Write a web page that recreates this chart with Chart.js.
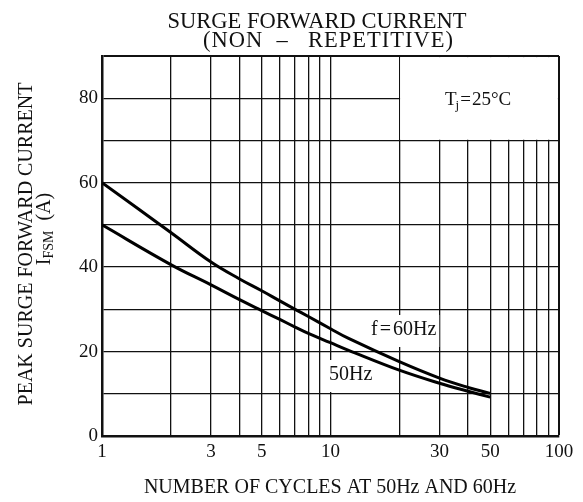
<!DOCTYPE html>
<html><head><meta charset="utf-8">
<script src="https://cdn.jsdelivr.net/npm/chart.js@4/dist/chart.umd.min.js"></script>
<style>html,body{margin:0;padding:0;background:#fff}#c{display:block}</style>
</head><body>
<canvas id="c" width="583" height="502"></canvas>
<script>
const cycles = [1, 2, 3, 4, 5, 6, 7, 8, 10, 12, 20, 30, 40, 50];
const current60Hz = [60, 48.2, 41.2, 37.2, 34.4, 32.0, 30.0, 28.3, 25.4, 23.1, 17.6, 13.7, 11.5, 10.1];
const current50Hz = [50, 40.6, 35.8, 32.3, 29.7, 27.6, 25.8, 24.3, 22.1, 20.3, 15.6, 12.5, 10.6, 9.2];
const xGridValues = [1,2,3,4,5,6,7,8,9,10,20,30,40,50,60,70,80,90,100];
const xTickLabels = [1, 3, 5, 10, 30, 50, 100];
const yGridValues = [0,10,20,30,40,50,60,70,80,90];
const yTickLabels = [0, 20, 40, 60, 80];

const SERIF = '"Liberation Serif", "DejaVu Serif", serif';
const INK = '#111';

const decor = {
  id: 'decor',
  beforeDatasetsDraw(chart) {
    const {ctx, chartArea: a, scales: {x, y}} = chart;
    ctx.save();
    // blank the Tj box region (no grid above 70 A beyond 20 cycles)
    const x20 = x.getPixelForValue(20), y70 = y.getPixelForValue(70);
    ctx.fillStyle = '#fff';
    ctx.fillRect(x20 + 0.8, a.top + 1.1, a.right - x20 - 1.9, y70 - a.top - 1.8);
    // label boxes
    ctx.font = '20px ' + SERIF;
    ctx.textBaseline = 'alphabetic';
    const lab = (parts, lx, by) => {
      let w = 0;
      parts.forEach(p => { w += ctx.measureText(p).width + 2; });
      ctx.fillStyle = '#fff';
      ctx.fillRect(lx - 3, by - 20, w + 4, 32);
      ctx.fillStyle = INK;
      let px = lx;
      parts.forEach(p => { ctx.fillText(p, px, by); px += ctx.measureText(p).width + 2; });
    };
    lab(['f', '=', '60Hz'], 371, 335);
    lab(['50Hz'], 329, 380);
    // Tj = 25°C
    ctx.fillStyle = INK;
    ctx.font = '19px ' + SERIF;
    let tx = 445;
    ctx.fillText('T', tx, 105); tx += ctx.measureText('T').width - 1;
    ctx.font = '13px ' + SERIF;
    ctx.fillText('j', tx, 109); tx += ctx.measureText('j').width + 1;
    ctx.font = '19px ' + SERIF;
    ctx.fillText('=', tx, 105); tx += ctx.measureText('=').width + 1;
    ctx.fillText('25°C', tx, 105);
    ctx.restore();
  },
  afterDraw(chart) {
    const {ctx} = chart;
    ctx.save();
    ctx.fillStyle = INK;
    ctx.textAlign = 'center';
    ctx.textBaseline = 'alphabetic';
    ctx.font = '22.5px ' + SERIF;
    ctx.fillText('SURGE FORWARD CURRENT', 317, 28);
    ctx.textAlign = 'left';
    ctx.letterSpacing = '1px';
    ctx.fillText('(NON', 203, 47);
    ctx.fillText('REPETITIVE)', 308, 47);
    ctx.letterSpacing = '0px';
    ctx.textAlign = 'center';
    ctx.fillText('\u2013', 282, 47);
    ctx.font = '20px ' + SERIF;
    ctx.fillText('NUMBER OF CYCLES AT 50Hz AND 60Hz', 330, 493);
    // y axis title
    ctx.save();
    ctx.translate(32, 244);
    ctx.rotate(-Math.PI / 2);
    ctx.font = '20px ' + SERIF;
    ctx.fillText('PEAK SURGE FORWARD CURRENT', 0, 0);
    ctx.restore();
    ctx.save();
    ctx.translate(50, 229);
    ctx.rotate(-Math.PI / 2);
    ctx.textAlign = 'left';
    ctx.font = '20px ' + SERIF;
    const wI = ctx.measureText('I').width;
    const wA = ctx.measureText('  (A)').width;
    ctx.font = '14px ' + SERIF;
    const wF = ctx.measureText('FSM').width;
    let px = -(wI + wF + wA) / 2;
    ctx.font = '20px ' + SERIF;
    ctx.fillText('I', px, 0); px += wI;
    ctx.font = '14px ' + SERIF;
    ctx.fillText('FSM', px, 3); px += wF;
    ctx.font = '20px ' + SERIF;
    ctx.fillText('  (A)', px, 0);
    ctx.restore();
    ctx.restore();
  }
};

new Chart(document.getElementById('c'), {
  type: 'line',
  data: {
    datasets: [
      { label: 'f=60Hz', data: cycles.map((c, i) => ({x: c, y: current60Hz[i]})),
        borderColor: '#000', borderWidth: 3, pointRadius: 0, fill: false, tension: 0.4 },
      { label: '50Hz', data: cycles.map((c, i) => ({x: c, y: current50Hz[i]})),
        borderColor: '#000', borderWidth: 3, pointRadius: 0, fill: false, tension: 0.4 }
    ]
  },
  options: {
    responsive: false,
    animation: false,
    events: [],
    layout: { padding: { left: 42, top: 56, right: 24, bottom: 36 } },
    plugins: { legend: { display: false }, tooltip: { enabled: false }, title: { display: false } },
    scales: {
      x: {
        type: 'logarithmic', min: 1, max: 100,
        afterBuildTicks: s => { s.ticks = xGridValues.map(v => ({value: v})); },
        afterFit: s => { s.height = 30; },
        grid: { color: INK, lineWidth: c => (c.tick && c.tick.value === 100 ? 2 : 1.3), drawTicks: false },
        border: { color: INK, width: 2.5 },
        ticks: { autoSkip: false, maxRotation: 0, color: INK, padding: 5, font: { family: SERIF, size: 19 },
          callback: v => (xTickLabels.includes(v) ? String(v) : '') }
      },
      y: {
        min: 0, max: 90,
        afterBuildTicks: s => { s.ticks = yGridValues.map(v => ({value: v})); },
        afterFit: s => { s.width = 60; },
        grid: { color: INK, lineWidth: c => (c.tick && c.tick.value === 90 ? 2 : 1.3), drawTicks: false },
        border: { color: INK, width: 2.5 },
        ticks: { color: INK, padding: 4, font: { family: SERIF, size: 19 },
          callback: v => (yTickLabels.includes(v) ? String(v) : '') }
      }
    }
  },
  plugins: [decor]
});
</script>
</body></html>
